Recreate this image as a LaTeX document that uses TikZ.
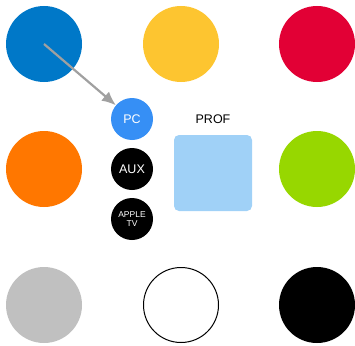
\documentclass[tikz,border=0pt]{standalone}
\usepackage{fontspec}
\setmainfont{Liberation Sans}
\usetikzlibrary{arrows.meta}
\definecolor{cblue}{RGB}{0,120,200}
\definecolor{cyellow}{RGB}{253,197,48}
\definecolor{cred}{RGB}{226,0,53}
\definecolor{corange}{RGB}{255,119,0}
\definecolor{cgreen}{RGB}{151,215,0}
\definecolor{cgray}{RGB}{192,192,192}
\definecolor{cpc}{RGB}{54,143,245}
\definecolor{cprof}{RGB}{160,209,247}
\definecolor{carrow}{RGB}{160,160,160}
\begin{document}
\begin{tikzpicture}[>={Latex[length=14pt,width=12pt]},x=1pt,y=-1pt,
        swatch/.style={circle,inner sep=0pt,minimum size=76pt},
        input/.style={circle,inner sep=0pt,minimum size=42pt,text=white,font=\fontsize{12.5}{13}\selectfont,align=center}]
        \useasboundingbox(0,0)rectangle(355,345);
        % big colour circles
        \node[swatch,fill=cblue](blue) at (44,44){};
        \node[swatch,fill=cyellow](yellow) at (181,44){};
        \node[swatch,fill=cred](red) at (317,44){};
        \node[swatch,fill=corange](orange) at (44,169){};
        \node[swatch,fill=cgreen](green) at (317,169){};
        \node[swatch,fill=cgray](gray) at (44,305){};
        \node[swatch,draw=black,line width=1pt,minimum size=75pt](white) at (181,305){};
        \node[swatch,fill=black](black) at (317,305){};
        % sources
        \node[input,fill=cpc](pc) at (132,119){PC};
        \node[input,fill=black](aux) at (132,169){AUX};
        \node[input,fill=black,font=\fontsize{8.5}{9}\selectfont](appletv) at (132,219){APPLE\\TV};
        % prof screen
        \node[fill=cprof,rounded corners=5pt,minimum width=78pt,minimum height=76pt](prof) at (213,173){};
        \node[font=\fontsize{12.5}{13}\selectfont](proflabel) at (213,119){PROF};
        \draw[carrow,line width=2.2pt,->](blue.center)--(pc);
    \end{tikzpicture}
\end{document}
